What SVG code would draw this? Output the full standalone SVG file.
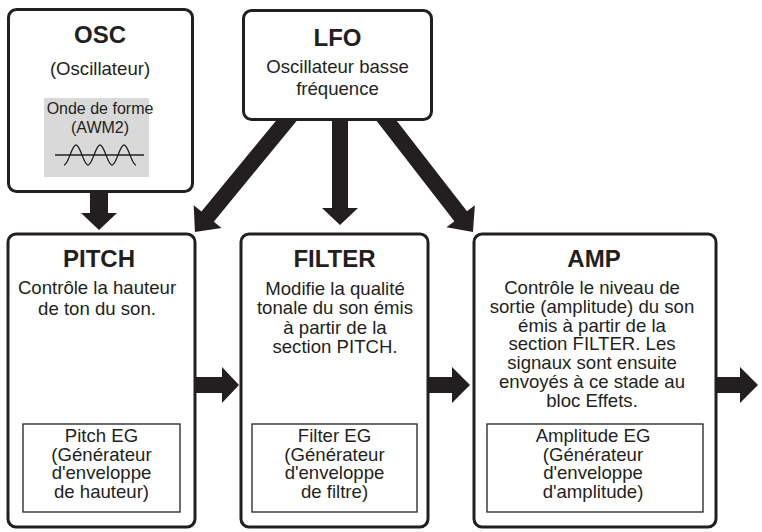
<svg xmlns="http://www.w3.org/2000/svg" width="762" height="532" viewBox="0 0 762 532">
<style>
  .box { fill: #ffffff; stroke: #231f20; stroke-width: 3; }
  .inner { fill: #ffffff; stroke: #231f20; stroke-width: 1.3; }
  .arrow { fill: #231f20; stroke: none; }
  text { font-family: "Liberation Sans", Arial, Helvetica, sans-serif; fill: #231f20; text-anchor: middle; }
  .title { font-size: 24px; font-weight: bold; }
  .body { font-size: 18.6px; }
  .small { font-size: 16px; }
</style>
<rect width="762" height="532" fill="#ffffff"/>
<g id="connectors">
  <path class="arrow" d="M90,185 H108 V213 H117 L99,230 L81,213 H90 Z"/>
  <path class="arrow" d="M332,115 H348 V208 H358 L340,225 L322,208 H332 Z"/>
  <path class="arrow" transform="translate(293.3,112.3) rotate(129.4)" d="M0,-8 H135 V-18 L155,0 L135,18 V8 H0 Z"/>
  <path class="arrow" transform="translate(379.9,112.1) rotate(52.2)" d="M0,-8 H131.8 V-18 L151.8,0 L131.8,18 V8 H0 Z"/>
  <path class="arrow" d="M190,377 H222 V367 L239,385 L222,403 V393 H190 Z"/>
  <path class="arrow" d="M423,377 H452 V367 L470,385 L452,403 V393 H423 Z"/>
  <path class="arrow" d="M711,377 H740 V367 L758,385 L740,403 V393 H711 Z"/>
</g>
<g id="osc">
  <rect class="box" x="8.5" y="9.5" width="184" height="182" rx="8"/>
  <text class="title" x="100" y="43">OSC</text>
  <text class="body" x="100" y="75">(Oscillateur)</text>
  <rect x="44" y="98" width="105" height="79" fill="#d9d9d9"/>
  <text class="small" x="100" y="114">Onde de forme</text>
  <text class="small" x="100" y="133">(AWM2)</text>
  <line x1="55" y1="155" x2="144" y2="155" stroke="#231f20" stroke-width="1.3"/>
  <path d="M64,165 C68.4,165 71.6,145 76,145 S83.6,165 88,165 S95.6,145 100,145 S107.6,165 112,165 S119.6,145 124,145 S131.6,165 136,165" fill="none" stroke="#231f20" stroke-width="1.3"/>
</g>
<g id="lfo">
  <rect class="box" x="243.5" y="10.5" width="188" height="109" rx="8"/>
  <text class="title" x="337.5" y="46">LFO</text>
  <text class="body" x="337.5" y="73">Oscillateur basse</text>
  <text class="body" x="337.5" y="95">fréquence</text>
</g>
<g id="pitch">
  <rect class="box" x="8" y="234" width="187" height="293" rx="8"/>
  <text class="title" x="99" y="267">PITCH</text>
  <text class="body" x="97" y="294">Contrôle la hauteur</text>
  <text class="body" x="97" y="315">de ton du son.</text>
  <rect class="inner" x="23" y="424" width="157" height="88"/>
  <text class="body" x="101.5" y="442">Pitch EG</text>
  <text class="body" x="101.5" y="460.5">(Générateur</text>
  <text class="body" x="101.5" y="479">d'enveloppe</text>
  <text class="body" x="101.5" y="497.5">de hauteur)</text>
</g>
<g id="filter">
  <rect class="box" x="241" y="234" width="187" height="293" rx="8"/>
  <text class="title" x="334.5" y="267">FILTER</text>
  <text class="body" x="335" y="295">Modifie la qualité</text>
  <text class="body" x="335" y="314.3">tonale du son émis</text>
  <text class="body" x="335" y="333.6">à partir de la</text>
  <text class="body" x="335" y="353">section PITCH.</text>
  <rect class="inner" x="252" y="424" width="165" height="88"/>
  <text class="body" x="334.5" y="442">Filter EG</text>
  <text class="body" x="334.5" y="460.5">(Générateur</text>
  <text class="body" x="334.5" y="479">d'enveloppe</text>
  <text class="body" x="334.5" y="497.5">de filtre)</text>
</g>
<g id="amp">
  <rect class="box" x="474" y="234" width="242" height="293" rx="8"/>
  <text class="title" x="594" y="267">AMP</text>
  <text class="body" x="592" y="294">Contrôle le niveau de</text>
  <text class="body" x="592" y="312.8">sortie (amplitude) du son</text>
  <text class="body" x="592" y="331.6">émis à partir de la</text>
  <text class="body" x="592" y="350.4">section FILTER. Les</text>
  <text class="body" x="592" y="369.2">signaux sont ensuite</text>
  <text class="body" x="592" y="388">envoyés à ce stade au</text>
  <text class="body" x="592" y="406.8">bloc Effets.</text>
  <rect class="inner" x="487" y="424" width="216" height="88"/>
  <text class="body" x="593" y="442">Amplitude EG</text>
  <text class="body" x="593" y="460.5">(Générateur</text>
  <text class="body" x="593" y="479">d'enveloppe</text>
  <text class="body" x="593" y="497.5">d'amplitude)</text>
</g>
</svg>
